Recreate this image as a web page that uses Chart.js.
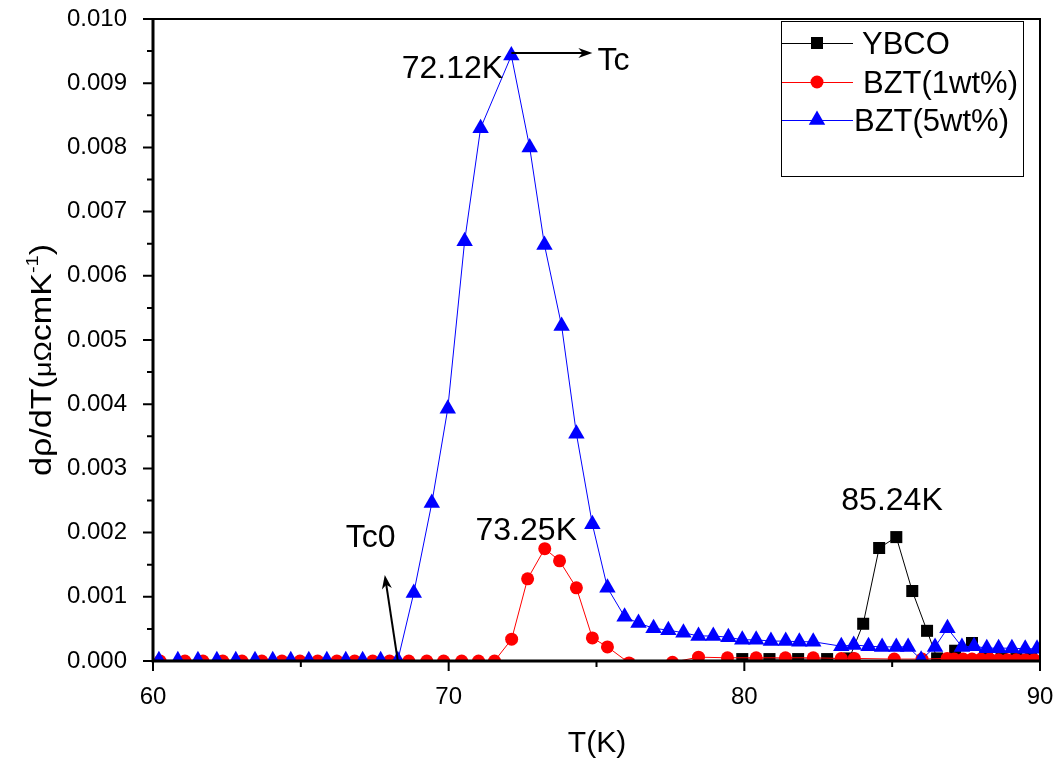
<!DOCTYPE html>
<html>
<head>
<meta charset="utf-8">
<script src="https://cdn.jsdelivr.net/npm/chart.js@4.4.1/dist/chart.umd.min.js"></script>
<style>
html,body{margin:0;padding:0;background:#fff;}
#wrap{width:1058px;height:764px;}
</style>
</head>
<body>
<div id="wrap"><canvas id="c" width="1058" height="764"></canvas></div>
<script>
// ---------- data ----------
const ybcoT = [79.93,80.85,81.82,82.8,83.55,84.02,84.56,85.14,85.68,86.18,86.52,87.13,87.7,88.2,88.7,89.2,89.7];
const ybcoV = [0.00003,0.00003,0.00003,0.00003,0.00004,0.00058,0.00176,0.00193,0.00109,0.00047,0.00004,0.00016,0.00028,0.00003,0.00003,0.00003,0.00003];

const bzt1T = [60.24,61.08,61.69,62.36,63.01,63.68,64.36,64.97,65.57,66.22,66.82,67.43,68.0,68.65,69.26,69.83,70.44,71.01,71.55,
               72.13,72.67,73.25,73.75,74.32,74.86,75.37,76.1,77.57,78.45,79.43,80.4,81.39,82.33,83.28,83.72,85.07,86.01,86.86,
               87.1,87.4,87.7,88.0,88.3,88.6,88.9,89.2,89.5,89.8];
const bzt1V = [0,0,0,0,0,0,0,0,0,0,0,0,0,0,0,0,0,0,0,
               0.00034,0.00128,0.00175,0.00156,0.00114,0.00036,0.00022,-0.00003,-0.00002,0.00006,0.00005,0.00005,0.00005,0.00005,0.00004,0.00004,0.00003,0.00003,0.00004,
               0.00003,0.00003,0.00003,0.00003,0.00003,0.00002,0.00002,0.00002,0.00002,0.00002];

const bzt5T = [60.2,60.84,61.52,62.16,62.8,63.45,64.05,64.66,65.27,65.88,66.52,67.09,67.7,68.28,
               68.82,69.43,69.97,70.54,71.08,72.12,72.74,73.24,73.82,74.32,74.86,75.37,75.95,76.42,76.93,77.43,77.94,
               78.45,78.95,79.46,79.93,80.4,80.9,81.4,81.86,82.33,83.28,83.7,84.2,84.66,85.14,85.54,85.98,86.45,86.87,
               87.36,87.77,88.2,88.6,89.05,89.5,89.9];
const bzt5V = [0.00001,0.00001,0.00001,0.00001,0.00001,0.00001,0.00001,0.00001,0.00001,0.00001,0.00001,0.00001,0.00001,0.00001,
               0.00106,0.00246,0.00393,0.00654,0.0083,0.00943,0.0080,0.00648,0.00522,0.00354,0.00213,0.00114,0.00069,0.00059,0.00051,0.00048,0.00044,
               0.00039,0.00039,0.00037,0.00033,0.00033,0.00031,0.00031,0.0003,0.0003,0.00023,0.00025,0.00023,0.00022,0.00022,0.00022,0.00002,0.00022,0.00051,
               0.00022,0.00023,0.0002,0.0002,0.0002,0.00019,0.00019];

const seriesNames = ['YBCO','BZT(1wt%)','BZT(5wt%)'];
const xTicks = [60,70,80,90];
const xMinorTicks = [65,75,85];
const yTicks = [0,0.001,0.002,0.003,0.004,0.005,0.006,0.007,0.008,0.009,0.010];
const yMinorTicks = [0.0005,0.0015,0.0025,0.0035,0.0045,0.0055,0.0065,0.0075,0.0085,0.0095];

// annotations anchored in data coordinates
const labels = [
  {text:'72.12K', x:68.41, y:0.00908},
  {text:'Tc',     x:75.03, y:0.00921},
  {text:'73.25K', x:70.91, y:0.00188},
  {text:'Tc0',    x:66.52, y:0.00178},
  {text:'85.24K', x:83.28, y:0.00235}
];
const arrows = [
  {from:[72.12,0.00947], to:[74.86,0.00947]},
  {from:[68.28,0.0],     to:[67.84,0.00134]}
];

// ---------- build ----------
const zip = (t,v) => t.map((x,i)=>({x:x, y:v[i]}));
const FONT = '"Liberation Sans", Arial, Helvetica, sans-serif';

function marker(ctx, style, x, y, r, color){
  ctx.save();
  ctx.fillStyle = color;
  ctx.beginPath();
  if(style==='rect'){
    const s = r*Math.SQRT2;
    ctx.rect(x-s/2, y-s/2, s, s);
  } else if(style==='circle'){
    ctx.arc(x,y,r,0,Math.PI*2);
  } else {
    for(let k=0;k<3;k++){
      const a = k*2*Math.PI/3;
      const px = x + Math.sin(a)*r, py = y - Math.cos(a)*r;
      if(k===0) ctx.moveTo(px,py); else ctx.lineTo(px,py);
    }
    ctx.closePath();
  }
  ctx.fill();
  ctx.restore();
}

function arrowHead(ctx, x1,y1,x2,y2){
  const ang = Math.atan2(y2-y1, x2-x1);
  const L = 14, W = 5;
  ctx.beginPath();
  ctx.moveTo(x2,y2);
  ctx.lineTo(x2 - L*Math.cos(ang) + W*Math.sin(ang), y2 - L*Math.sin(ang) - W*Math.cos(ang));
  ctx.lineTo(x2 - 0.7*L*Math.cos(ang), y2 - 0.7*L*Math.sin(ang));
  ctx.lineTo(x2 - L*Math.cos(ang) - W*Math.sin(ang), y2 - L*Math.sin(ang) + W*Math.cos(ang));
  ctx.closePath();
  ctx.fill();
}

const decor = {
  id:'decor',
  afterDatasetsDraw(chart){
    const {ctx, chartArea:a, scales:{x, y}} = chart;
    ctx.save();
    ctx.strokeStyle = '#000';
    ctx.lineWidth = 2;
    ctx.beginPath();
    ctx.moveTo(a.left, a.top); ctx.lineTo(a.right, a.top); ctx.lineTo(a.right, a.bottom);
    ctx.stroke();
    ctx.lineWidth = 3;
    ctx.beginPath();
    ctx.moveTo(a.left, a.top-1); ctx.lineTo(a.left, a.bottom); ctx.lineTo(a.right+1, a.bottom);
    ctx.stroke();
    ctx.lineWidth = 2;
    ctx.beginPath();
    xTicks.forEach(v=>{const p=x.getPixelForValue(v); ctx.moveTo(p,a.bottom); ctx.lineTo(p,a.bottom+10);});
    xMinorTicks.forEach(v=>{const p=x.getPixelForValue(v); ctx.moveTo(p,a.bottom); ctx.lineTo(p,a.bottom+6);});
    yTicks.forEach(v=>{const p=y.getPixelForValue(v); ctx.moveTo(a.left,p); ctx.lineTo(a.left-10,p);});
    yMinorTicks.forEach(v=>{const p=y.getPixelForValue(v); ctx.moveTo(a.left,p); ctx.lineTo(a.left-6,p);});
    ctx.stroke();
    ctx.restore();
  },
  afterDraw(chart){
    const {ctx, chartArea:a, scales:{x, y}} = chart;
    ctx.save();
    const ds = chart.data.datasets;
    const order = [2,1,0];
    ctx.fillStyle = '#fff';
    ctx.fillRect(781.5, 21.5, 242, 155);
    ctx.strokeStyle = '#000'; ctx.lineWidth = 1;
    ctx.strokeRect(781.5, 21.5, 242, 155);
    const rows = [43, 82, 120];
    const textX = [862, 863, 854];
    ctx.font = '31px ' + FONT;
    ctx.textBaseline = 'middle';
    ctx.textAlign = 'left';
    order.forEach((di,i)=>{
      const d = ds[di];
      ctx.strokeStyle = d.borderColor; ctx.lineWidth = 1;
      ctx.beginPath(); ctx.moveTo(782, rows[i]+0.5); ctx.lineTo(853, rows[i]+0.5); ctx.stroke();
      marker(ctx, d.pointStyle, 817, rows[i], d.pointRadius, d.backgroundColor);
      ctx.fillStyle = '#000';
      ctx.fillText(d.label, textX[i], rows[i]+2);
    });
    ctx.fillStyle = '#000';
    ctx.font = '32px ' + FONT;
    ctx.textBaseline = 'alphabetic';
    labels.forEach(l=>ctx.fillText(l.text, x.getPixelForValue(l.x), y.getPixelForValue(l.y)));
    ctx.strokeStyle = '#000'; ctx.fillStyle = '#000'; ctx.lineWidth = 2;
    arrows.forEach(ar=>{
      const x1=x.getPixelForValue(ar.from[0]), y1=y.getPixelForValue(ar.from[1]);
      const x2=x.getPixelForValue(ar.to[0]), y2=y.getPixelForValue(ar.to[1]);
      const ang = Math.atan2(y2-y1,x2-x1);
      ctx.beginPath(); ctx.moveTo(x1,y1); ctx.lineTo(x2-8*Math.cos(ang), y2-8*Math.sin(ang)); ctx.stroke();
      arrowHead(ctx,x1,y1,x2,y2);
    });
    ctx.font = '30px ' + FONT;
    ctx.textAlign = 'center';
    ctx.fillText('T(K)', (a.left+a.right)/2 + 0.5, 752);
    const parts = [
      {t:'d\u03C1/dT(', f:'29px '+FONT, dy:0},
      {t:'\u03BC\u03A9', f:'23px '+FONT, dy:0},
      {t:'cmK', f:'29px '+FONT, dy:0},
      {t:'-1', f:'17px '+FONT, dy:-13},
      {t:')', f:'29px '+FONT, dy:0}
    ];
    let total = 0;
    parts.forEach(p=>{ctx.font=p.f; p.w=ctx.measureText(p.t).width; total+=p.w;});
    const target = 232;
    const sc = target/total;
    ctx.translate(51, 360);
    ctx.rotate(-Math.PI/2);
    ctx.scale(sc, 1);
    ctx.textAlign = 'left';
    let cx = -total/2;
    parts.forEach(p=>{ctx.font=p.f; ctx.fillText(p.t, cx, p.dy); cx += p.w;});
    ctx.restore();
  }
};

new Chart(document.getElementById('c'), {
  type:'scatter',
  data:{
    datasets:[
      {label:seriesNames[2], data:zip(bzt5T,bzt5V), showLine:true, borderColor:'#0000ff', backgroundColor:'#0000ff',
       borderWidth:1, pointStyle:'triangle', pointRadius:9.5, pointHoverRadius:9.5, pointBorderWidth:0},
      {label:seriesNames[1], data:zip(bzt1T,bzt1V), showLine:true, borderColor:'#ff0000', backgroundColor:'#ff0000',
       borderWidth:1, pointStyle:'circle', pointRadius:6.5, pointHoverRadius:6.5, pointBorderWidth:0},
      {label:seriesNames[0], data:zip(ybcoT,ybcoV), showLine:true, borderColor:'#000000', backgroundColor:'#000000',
       borderWidth:1, pointStyle:'rect', pointRadius:8.5, pointHoverRadius:8.5, pointBorderWidth:0}
    ]
  },
  options:{
    responsive:false,
    animation:false,
    devicePixelRatio:1,
    layout:{padding:{top:19, right:18, left:0, bottom:0}},
    plugins:{legend:{display:false}, tooltip:{enabled:false}},
    scales:{
      x:{
        type:'linear', min:60, max:90,
        afterBuildTicks:s=>{s.ticks = xTicks.map(v=>({value:v}));},
        afterFit:s=>{s.height = 103; s.paddingLeft = 0; s.paddingRight = 0;},
        grid:{display:false}, border:{display:false},
        ticks:{font:{family:FONT, size:24}, color:'#000', padding:14, maxRotation:0, callback:v=>String(v)}
      },
      y:{
        type:'linear', min:0, max:0.010,
        afterBuildTicks:s=>{s.ticks = yTicks.map(v=>({value:v}));},
        afterFit:s=>{s.width = 153; s.paddingTop = 0; s.paddingBottom = 0;},
        grid:{display:false}, border:{display:false},
        ticks:{font:{family:FONT, size:24}, color:'#000', padding:18, callback:v=>Number(v).toFixed(3)}
      }
    }
  },
  plugins:[decor]
});
</script>
</body>
</html>
